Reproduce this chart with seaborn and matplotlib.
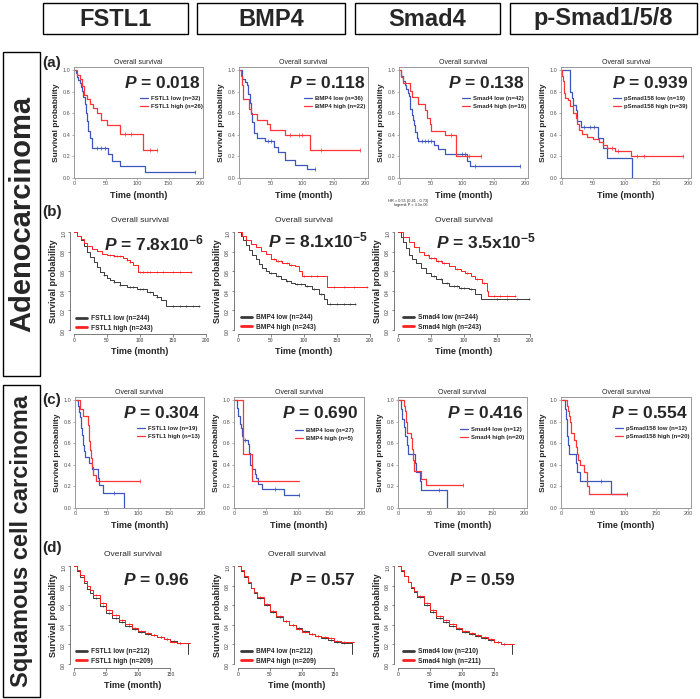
import matplotlib
matplotlib.use("Agg")
import matplotlib.pyplot as plt
from matplotlib.patches import Rectangle
import numpy as np
import pandas as pd
import seaborn as sns

W, H = 700, 699

# column / row headers
genes = ["FSTL1", "BMP4", "Smad4", "p-Smad1/5/8"]
groups = ["Adenocarcinoma", "Squamous cell carcinoma"]

# ---------------- (a) adenocarcinoma, own cohort ----------------
a1_low_t = [0, 2, 4, 6, 8, 10, 12, 14, 16, 18, 20, 22, 24, 27, 53, 60, 72, 112, 192]
a1_low_s = [1.0, 0.97, 0.94, 0.91, 0.88, 0.84, 0.81, 0.75, 0.69, 0.6, 0.53, 0.44, 0.37, 0.28, 0.22, 0.16, 0.11, 0.055, 0.055]
a1_low_c = [35, 42, 48, 192]
a1_high_t = [0, 3, 8, 12, 15, 20, 25, 30, 36, 42, 52, 72, 109, 131]
a1_high_s = [1.0, 0.96, 0.92, 0.85, 0.77, 0.73, 0.69, 0.65, 0.6, 0.54, 0.49, 0.41, 0.26, 0.26]
a1_high_c = [80, 90, 120, 131]

a2_low_t = [0, 3, 9, 12, 14, 16, 18, 20, 23, 28, 40, 55, 62, 72, 88, 108, 120]
a2_low_s = [1.0, 0.92, 0.89, 0.86, 0.78, 0.7, 0.6, 0.52, 0.42, 0.37, 0.34, 0.29, 0.24, 0.17, 0.12, 0.08, 0.08]
a2_low_c = [45, 50, 120]
a2_high_t = [0, 2, 4, 6, 15, 18, 28, 43, 48, 72, 112, 192]
a2_high_s = [1.0, 0.95, 0.86, 0.73, 0.64, 0.59, 0.54, 0.5, 0.45, 0.40, 0.26, 0.26]
a2_high_c = [80, 95, 100, 130, 192]

a3_low_t = [0, 2, 5, 8, 10, 13, 15, 16, 17, 19, 21, 23, 24, 27, 30, 55, 62, 72, 108, 112, 192]
a3_low_s = [1.0, 0.95, 0.9, 0.86, 0.83, 0.79, 0.76, 0.7, 0.64, 0.58, 0.54, 0.49, 0.43, 0.37, 0.34, 0.31, 0.27, 0.22, 0.16, 0.11, 0.11]
a3_low_c = [35, 40, 45, 50, 100, 105, 120, 192]
a3_high_t = [0, 2, 5, 17, 20, 30, 40, 44, 48, 50, 72, 90, 130]
a3_high_s = [1.0, 0.94, 0.88, 0.81, 0.75, 0.69, 0.63, 0.56, 0.5, 0.44, 0.4, 0.2, 0.2]
a3_high_c = [82, 110, 130]

a4_low_t = [0, 13, 14, 16, 18, 22, 24, 30, 57, 66, 72, 112]
a4_low_s = [1.0, 0.9, 0.8, 0.74, 0.68, 0.63, 0.53, 0.47, 0.37, 0.28, 0.19, 0.0]
a4_low_c = [35, 45, 52]
a4_high_t = [0, 1, 2, 3, 4, 6, 10, 14, 18, 22, 24, 27, 32, 40, 50, 60, 65, 72, 85, 110, 192]
a4_high_s = [1.0, 0.95, 0.9, 0.85, 0.79, 0.74, 0.72, 0.67, 0.6, 0.56, 0.5, 0.45, 0.41, 0.38, 0.36, 0.33, 0.31, 0.28, 0.25, 0.2, 0.2]
a4_high_c = [80, 90, 120, 130, 192]

# ---------------- (b) adenocarcinoma, KM plotter ----------------
b1_low_t = [0, 5, 10, 15, 20, 25, 30, 35, 40, 45, 50, 55, 60, 70, 80, 95, 110, 120, 125, 132, 140, 190]
b1_low_s = [1.0, 0.96, 0.92, 0.86, 0.8, 0.74, 0.69, 0.64, 0.59, 0.56, 0.53, 0.51, 0.49, 0.46, 0.44, 0.42, 0.39, 0.36, 0.34, 0.31, 0.25, 0.25]
b1_low_c = [45, 60, 70, 85, 90, 100, 105, 115, 125, 150, 160, 170, 180, 190]
b1_high_t = [0, 5, 10, 15, 20, 27, 35, 43, 50, 60, 70, 75, 80, 85, 90, 97, 177]
b1_high_s = [1.0, 0.96, 0.93, 0.89, 0.86, 0.83, 0.81, 0.78, 0.76, 0.75, 0.75, 0.73, 0.71, 0.69, 0.66, 0.59, 0.59]
b1_high_c = [55, 60, 65, 70, 80, 85, 100, 105, 110, 115, 125, 135, 150, 160, 177]

b2_low_t = [0, 4, 8, 12, 17, 22, 27, 32, 37, 42, 47, 57, 65, 72, 80, 87, 102, 112, 122, 130, 135, 177]
b2_low_s = [1.0, 0.96, 0.92, 0.87, 0.82, 0.77, 0.72, 0.67, 0.63, 0.6, 0.58, 0.55, 0.52, 0.5, 0.48, 0.47, 0.45, 0.42, 0.37, 0.32, 0.27, 0.27]
b2_low_c = [50, 60, 75, 90, 95, 105, 115, 125, 140, 150, 160, 170, 177]
b2_high_t = [0, 6, 12, 20, 27, 35, 42, 50, 58, 67, 77, 87, 92, 97, 135, 195]
b2_high_s = [1.0, 0.96, 0.92, 0.88, 0.85, 0.81, 0.78, 0.72, 0.7, 0.68, 0.66, 0.65, 0.6, 0.55, 0.44, 0.44]
b2_high_c = [55, 60, 65, 75, 80, 100, 110, 120, 145, 160, 175, 195]

b3_low_t = [0, 4, 8, 12, 17, 22, 27, 35, 42, 50, 57, 67, 77, 92, 107, 117, 125, 198]
b3_low_s = [1.0, 0.95, 0.9, 0.84, 0.77, 0.72, 0.68, 0.63, 0.58, 0.55, 0.52, 0.48, 0.45, 0.43, 0.42, 0.37, 0.32, 0.32]
b3_low_c = [55, 65, 75, 85, 90, 95, 100, 110, 150, 165, 180, 198]
b3_high_t = [0, 8, 17, 25, 32, 40, 47, 57, 67, 77, 87, 95, 102, 110, 117, 127, 135, 137, 177]
b3_high_s = [1.0, 0.95, 0.9, 0.85, 0.8, 0.76, 0.73, 0.7, 0.68, 0.65, 0.62, 0.6, 0.58, 0.55, 0.52, 0.48, 0.4, 0.35, 0.35]
b3_high_c = [45, 50, 55, 60, 65, 70, 90, 105, 120, 130, 145, 155, 165, 177]

# ---------------- (c) squamous, own cohort ----------------
c1_low_t = [0, 3, 5, 7, 8, 9, 10, 12, 13, 15, 22, 26, 35, 37, 43, 78]
c1_low_s = [1.0, 0.95, 0.89, 0.84, 0.79, 0.74, 0.68, 0.58, 0.53, 0.47, 0.42, 0.36, 0.28, 0.21, 0.14, 0.0]
c1_low_c = [62]
c1_high_t = [0, 7, 12, 20, 21, 22, 23, 24, 26, 27, 33, 103]
c1_high_s = [1.0, 0.92, 0.85, 0.77, 0.69, 0.62, 0.54, 0.46, 0.38, 0.31, 0.25, 0.25]
c1_high_c = [103]

c2_low_t = [0, 3, 4, 5, 6, 8, 9, 10, 11, 12, 14, 21, 22, 23, 24, 25, 27, 32, 34, 37, 43, 78, 102]
c2_low_s = [1.0, 0.96, 0.93, 0.89, 0.85, 0.81, 0.78, 0.74, 0.7, 0.67, 0.63, 0.59, 0.55, 0.51, 0.44, 0.4, 0.36, 0.32, 0.28, 0.22, 0.18, 0.12, 0.12]
c2_low_c = [16, 64, 102]
c2_high_t = [0, 13, 27, 102]
c2_high_s = [1.0, 0.5, 0.25, 0.25]
c2_high_c = []

c3_low_t = [0, 4, 6, 8, 10, 14, 15, 26, 28, 34, 36, 78]
c3_low_s = [1.0, 0.92, 0.83, 0.75, 0.67, 0.58, 0.5, 0.42, 0.33, 0.25, 0.17, 0.0]
c3_low_c = [64]
c3_high_t = [0, 8, 10, 11, 12, 14, 20, 21, 22, 23, 24, 25, 36, 43, 103]
c3_high_s = [1.0, 0.95, 0.9, 0.85, 0.8, 0.7, 0.65, 0.6, 0.55, 0.45, 0.4, 0.34, 0.27, 0.21, 0.21]
c3_high_c = [103]

c4_low_t = [0, 5, 7, 8, 9, 10, 12, 23, 25, 29, 78, 103]
c4_low_s = [1.0, 0.92, 0.83, 0.75, 0.67, 0.58, 0.5, 0.42, 0.33, 0.25, 0.13, 0.13]
c4_low_c = [63, 103]
c4_high_t = [0, 8, 10, 12, 14, 15, 20, 22, 24, 26, 29, 36, 40, 44, 103]
c4_high_s = [1.0, 0.95, 0.9, 0.85, 0.8, 0.7, 0.63, 0.57, 0.5, 0.45, 0.4, 0.33, 0.2, 0.13, 0.13]
c4_high_c = [103]

# ---------------- (d) squamous, KM plotter ----------------
d_t_low = [0, 5, 10, 15, 20, 25, 30, 40, 50, 60, 70, 80, 90, 100, 110, 120, 130, 140, 150, 160, 175, 177]
d_t_high = [0, 5, 10, 15, 20, 25, 30, 40, 50, 60, 70, 80, 90, 100, 110, 120, 130, 140, 150, 160, 180]
d_cens = [35, 45, 55, 65, 75, 85, 95, 105, 115, 125, 135, 145, 155, 165]
d1_low_s = [1.0, 0.95, 0.89, 0.83, 0.77, 0.72, 0.67, 0.59, 0.52, 0.47, 0.43, 0.39, 0.36, 0.33, 0.31, 0.3, 0.28, 0.26, 0.24, 0.21, 0.21, 0.1]
d1_high_s = [1.0, 0.96, 0.91, 0.85, 0.8, 0.75, 0.7, 0.62, 0.55, 0.5, 0.45, 0.41, 0.37, 0.34, 0.32, 0.3, 0.28, 0.26, 0.22, 0.21, 0.21]
d2_low_s = [1.0, 0.95, 0.89, 0.83, 0.78, 0.72, 0.67, 0.6, 0.53, 0.48, 0.44, 0.4, 0.37, 0.34, 0.31, 0.29, 0.27, 0.25, 0.23, 0.21, 0.21, 0.1]
d2_high_s = [1.0, 0.96, 0.9, 0.84, 0.78, 0.73, 0.68, 0.61, 0.54, 0.49, 0.44, 0.4, 0.36, 0.33, 0.31, 0.29, 0.28, 0.27, 0.24, 0.23, 0.23]
d3_low_s = [1.0, 0.95, 0.9, 0.84, 0.78, 0.73, 0.68, 0.6, 0.53, 0.47, 0.43, 0.39, 0.36, 0.33, 0.31, 0.29, 0.27, 0.25, 0.22, 0.2, 0.2, 0.1]
d3_high_s = [1.0, 0.96, 0.9, 0.84, 0.79, 0.74, 0.69, 0.62, 0.55, 0.49, 0.45, 0.41, 0.37, 0.34, 0.32, 0.3, 0.28, 0.26, 0.22, 0.2, 0.2]

p_a = ["0.018", "0.118", "0.138", "0.939"]
p_b = ["7.8x10$^{-6}$", "8.1x10$^{-5}$", "3.5x10$^{-5}$"]
p_c = ["0.304", "0.690", "0.416", "0.554"]
p_d = ["0.96", "0.57", "0.59"]

leg_a = [("FSTL1 low (n=32)", "FSTL1 high (n=26)"), ("BMP4 low (n=36)", "BMP4 high (n=22)"),
         ("Smad4 low (n=42)", "Smad4 high (n=16)"), ("pSmad158 low (n=19)", "pSmad158 high (n=39)")]
leg_b = [("FSTL1 low (n=244)", "FSTL1 high (n=243)"), ("BMP4 low (n=244)", "BMP4 high (n=243)"),
         ("Smad4 low (n=244)", "Smad4 high (n=243)")]
leg_c = [("FSTL1 low (n=19)", "FSTL1 high (n=13)"), ("BMP4 low (n=27)", "BMP4 high (n=5)"),
         ("Smad4 low (n=12)", "Smad4 high (n=20)"), ("pSmad158 low (n=12)", "pSmad158 high (n=20)")]
leg_d = [("FSTL1 low (n=212)", "FSTL1 high (n=209)"), ("BMP4 low (n=212)", "BMP4 high (n=209)"),
         ("Smad4 low (n=210)", "Smad4 high (n=211)")]

BLUE, RED_S = "#3d55bd", "#ff3535"
GREY, RED_K = "#3a3a3a", "#ff2020"

sns.set_theme(style="ticks")
plt.rcParams["font.family"] = ["Liberation Sans", "DejaVu Sans"]
plt.rcParams["mathtext.fontset"] = "custom"
plt.rcParams["mathtext.it"] = "Liberation Sans:italic:bold"
plt.rcParams["mathtext.rm"] = "Liberation Sans:bold"
plt.rcParams["mathtext.bf"] = "Liberation Sans:bold"

fig = plt.figure(figsize=(W / 100, H / 100), dpi=100)


def add_ax(l, t, r, b):
    return fig.add_axes([l / W, 1 - b / H, (r - l) / W, (b - t) / H])


def ftext(x, y, s, **kw):
    fig.text(x / W, 1 - y / H, s, **kw)


def draw_curve(ax, t, s, c, color, label, lw, marker, msize):
    df = pd.DataFrame({"time": t, "surv": s})
    sns.lineplot(data=df, x="time", y="surv", ax=ax, color=color, lw=lw,
                 drawstyle="steps-post", label=label, estimator=None, sort=False)
    if len(c):
        ta, sa = np.asarray(t, float), np.asarray(s, float)
        cs = sa[np.searchsorted(ta, c, side="right") - 1]
        sns.scatterplot(x=c, y=cs, ax=ax, marker=marker, s=msize, color=color,
                        linewidth=0.5, legend=False, zorder=3)


def spss_panel(rect, low, high, labels, p, p_pos, leg_pos):
    ax = add_ax(*rect)
    draw_curve(ax, *low, BLUE, labels[0], 0.9, "|", 6)
    draw_curve(ax, *high, RED_S, labels[1], 0.9, "|", 6)
    ax.set_xlim(-1, 205)
    ax.set_ylim(0, 1.03)
    ax.set_xticks([0, 50, 100, 150, 200])
    ax.set_yticks([0, 0.2, 0.4, 0.6, 0.8, 1.0])
    ax.set_yticklabels(["0.0", "0.2", "0.4", "0.6", "0.8", "1.0"])
    ax.tick_params(labelsize=4, colors="#777777", labelcolor="#555555", length=1.5, width=0.4, pad=1)
    for sp in ax.spines.values():
        sp.set_color("#999999")
        sp.set_linewidth(0.7)
    ax.set_xlabel("Time (month)", fontsize=6.5, weight="bold", labelpad=3)
    ax.set_ylabel("Survival probability", fontsize=6, weight="bold", labelpad=2)
    ax.set_title("Overall survival", fontsize=5, pad=2)
    leg = ax.legend(loc="upper left", bbox_to_anchor=(leg_pos[0] / W, 1 - leg_pos[1] / H),
                    bbox_transform=fig.transFigure, frameon=False, borderpad=0, borderaxespad=0,
                    prop={"size": 4.3, "weight": "bold"}, handlelength=1.3, handletextpad=0.5,
                    labelspacing=0.45)
    for ln in leg.get_lines():
        ln.set_linewidth(0.9)
    ftext(p_pos[0], p_pos[1], "$P$ = " + p, fontsize=12.5, weight="bold", ha="right", va="center")
    return ax


def km_panel(rect, low, high, labels, p, p_pos, leg_pos, xmax, xticks):
    ax = add_ax(*rect)
    draw_curve(ax, *low, GREY, labels[0], 0.7, "+", 4)
    draw_curve(ax, *high, RED_K, labels[1], 0.7, "+", 4)
    ax.set_xlim(-6, xmax)
    ax.set_ylim(-0.04, 1.04)
    ax.set_xticks(xticks)
    ax.set_yticks([0, 0.2, 0.4, 0.6, 0.8, 1.0])
    ax.set_yticklabels(["0.0", "0.2", "0.4", "0.6", "0.8", "1.0"])
    sns.despine(ax=ax, trim=True)
    ax.tick_params(labelsize=3.5, colors="#333333", length=1.8, width=0.4, pad=1)
    ax.tick_params(axis="y", labelrotation=90)
    for sp in ax.spines.values():
        sp.set_color("#444444")
        sp.set_linewidth(0.5)
    ax.set_xlabel("Time (month)", fontsize=6.5, weight="bold", labelpad=3)
    ax.set_ylabel("Survival probability", fontsize=6.5, weight="bold", labelpad=2)
    ax.set_title("Overall survival", fontsize=6, pad=4)
    leg = ax.legend(loc="upper left", bbox_to_anchor=(leg_pos[0] / W, 1 - leg_pos[1] / H),
                    bbox_transform=fig.transFigure, frameon=False, borderpad=0, borderaxespad=0,
                    prop={"size": 4.8, "weight": "bold"}, handlelength=1.6, handletextpad=0.6,
                    labelspacing=0.4)
    for ln in leg.get_lines():
        ln.set_linewidth(2.0)
    ftext(p_pos[0], p_pos[1], "$P$ = " + p, fontsize=12.5, weight="bold", ha="right", va="center")
    return ax


# header boxes
for g, (l, r) in zip(genes, [(43, 188), (197, 345), (355, 500), (510, 697)]):
    fig.add_artist(Rectangle((l / W, 1 - 34 / H), (r - l) / W, 31 / H, transform=fig.transFigure,
                             fill=False, lw=1.0, ec="black"))
    ftext((l + r) / 2, 19, g, fontsize=17, weight="bold", ha="center", va="center")

for g, (t, b), fs in zip(groups, [(52, 376), (385, 697)], [21, 17]):
    fig.add_artist(Rectangle((3 / W, 1 - b / H), 37 / W, (b - t) / H, transform=fig.transFigure,
                             fill=False, lw=1.0, ec="black"))
    ftext(22, (t + b) / 2, g, fontsize=fs, weight="bold", ha="center", va="center", rotation=90)

for lab, y in zip(["(a)", "(b)", "(c)", "(d)"], [63, 212, 400, 548]):
    ftext(42, y, lab, fontsize=11, weight="bold", ha="left", va="center")

# row a
a_rects = [(74, 67, 203, 178), (239, 67, 368, 178), (399, 67, 528, 178), (561, 67, 691, 178)]
a_data = [((a1_low_t, a1_low_s, a1_low_c), (a1_high_t, a1_high_s, a1_high_c)),
          ((a2_low_t, a2_low_s, a2_low_c), (a2_high_t, a2_high_s, a2_high_c)),
          ((a3_low_t, a3_low_s, a3_low_c), (a3_high_t, a3_high_s, a3_high_c)),
          ((a4_low_t, a4_low_s, a4_low_c), (a4_high_t, a4_high_s, a4_high_c))]
a_ppos = [(200, 83), (365, 83), (524, 83), (688, 83)]
a_lpos = [(140, 96), (304, 96), (462, 96), (613, 96)]
for i in range(4):
    spss_panel(a_rects[i], *a_data[i], leg_a[i], p_a[i], a_ppos[i], a_lpos[i])

# row c
c_rects = [(75, 397, 204, 508), (234, 397, 364, 508), (398, 397, 527, 508), (561, 397, 691, 508)]
c_data = [((c1_low_t, c1_low_s, c1_low_c), (c1_high_t, c1_high_s, c1_high_c)),
          ((c2_low_t, c2_low_s, c2_low_c), (c2_high_t, c2_high_s, c2_high_c)),
          ((c3_low_t, c3_low_s, c3_low_c), (c3_high_t, c3_high_s, c3_high_c)),
          ((c4_low_t, c4_low_s, c4_low_c), (c4_high_t, c4_high_s, c4_high_c))]
c_ppos = [(200, 413), (358, 413), (523, 413), (688, 413)]
c_lpos = [(137, 426), (295, 428), (460, 427), (615, 426)]
for i in range(4):
    spss_panel(c_rects[i], *c_data[i], leg_c[i], p_c[i], c_ppos[i], c_lpos[i])

# row b
b_rects = [(70, 228, 210, 334), (234, 228, 374, 334), (394, 228, 534, 334)]
b_data = [((b1_low_t, b1_low_s, b1_low_c), (b1_high_t, b1_high_s, b1_high_c)),
          ((b2_low_t, b2_low_s, b2_low_c), (b2_high_t, b2_high_s, b2_high_c)),
          ((b3_low_t, b3_low_s, b3_low_c), (b3_high_t, b3_high_s, b3_high_c))]
b_ppos = [(204, 243), (368, 240), (536, 241)]
b_lpos = [(76, 315), (241, 314), (403, 314)]
for i in range(3):
    km_panel(b_rects[i], *b_data[i], leg_b[i], p_b[i], b_ppos[i], b_lpos[i], 206, [0, 50, 100, 150, 200])

ftext(428, 203, "HR = 0.55 (0.41 - 0.73)\nlogrank P = 3.5e-05", fontsize=2.8, ha="right",
      va="center", multialignment="right")

# row d
d_rects = [(70, 562, 196, 668), (234, 562, 360, 668), (394, 562, 520, 668)]
d_data = [((d_t_low, d1_low_s, d_cens), (d_t_high, d1_high_s, d_cens)),
          ((d_t_low, d2_low_s, d_cens), (d_t_high, d2_high_s, d_cens)),
          ((d_t_low, d3_low_s, d_cens), (d_t_high, d3_high_s, d_cens))]
d_ppos = [(190, 580), (355, 580), (515, 580)]
d_lpos = [(76, 648), (241, 648), (403, 648)]
for i in range(3):
    km_panel(d_rects[i], *d_data[i], leg_d[i], p_d[i], d_ppos[i], d_lpos[i], 190, [0, 50, 100, 150])

fig.savefig("out.png", dpi=100)
